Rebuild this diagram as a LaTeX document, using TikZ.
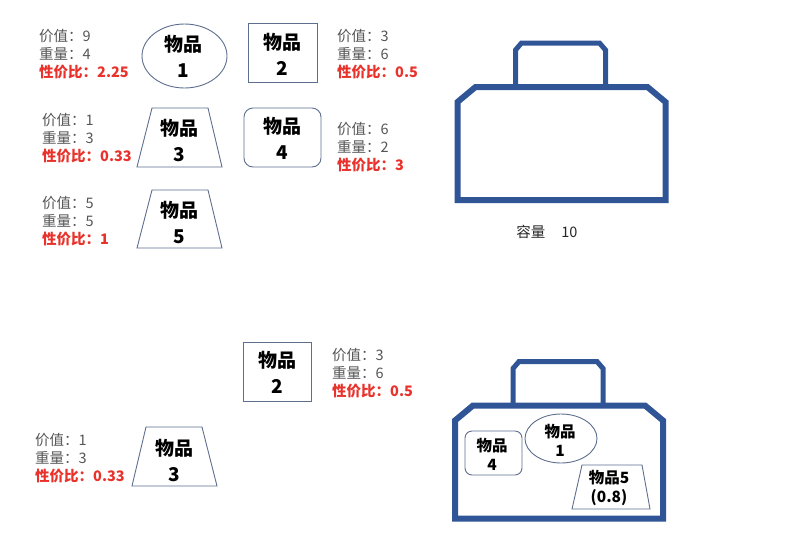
\documentclass[tikz,border=0pt]{standalone}
\usepackage{fontspec}
\setmainfont{Noto Sans CJK SC}
\usetikzlibrary{shapes.geometric}
\definecolor{bagblue}{HTML}{2F5597}
\definecolor{edgeg}{HTML}{5E6E8E}
\definecolor{lblred}{HTML}{E8322B}
\definecolor{lblgray}{HTML}{555555}
\tikzset{
  lbl/.style={anchor=west,align=left,inner sep=0pt,text=lblgray,font=\fontsize{14.5}{18}\selectfont},
  itemtxt/.style={align=center,inner sep=0pt,font=\fontsize{19}{26}\selectfont\bfseries,text=black},
  smalltxt/.style={align=center,inner sep=0pt,font=\fontsize{15.5}{19}\selectfont\bfseries,text=black},
  outl/.style={draw=edgeg,line width=0.9pt},
  bagline/.style={draw=bagblue,line width=6pt,line join=miter},
  handleline/.style={draw=bagblue,line width=5pt,line join=miter},
  pics/bag/.style={code={
    \draw[handleline] (58,0) -- (58,-37) -- (64,-44) -- (142,-44) -- (148,-37) -- (148,0);
    \draw[bagline] (0,15) -- (18,0) -- (190,0) -- (208,15) -- (208,113) -- (0,113) -- cycle;
  }}
}
\newcommand{\lbltext}[3]{价值：#1\\重量：#2\\\textcolor{lblred}{\bfseries 性价比：#3}}
\begin{document}
\begin{tikzpicture}[x=1pt,y=-1pt]
\useasboundingbox (0,0) rectangle (809,547);
% ---------- top ----------
\draw[outl] (184.5,56) ellipse[x radius=42.5,y radius=32];
\node[itemtxt] (t1) at (183,56) {物品\\1};
\node[lbl] (l1) at (39,54) {\lbltext{9}{4}{2.25}};

\draw[outl] (248,23) rectangle (317,82);
\node[itemtxt] (t2) at (282,54) {物品\\2};
\node[lbl] (l2) at (337,54) {\lbltext{3}{6}{0.5}};

\draw[outl] (152,108) -- (208,108) -- (222,167) -- (137,167) -- cycle;
\node[itemtxt] (t3) at (179,140.5) {物品\\3};
\node[lbl] (l3) at (42,138) {\lbltext{1}{3}{0.33}};

\draw[outl,rounded corners=9pt] (244,108) rectangle (321,167);
\node[itemtxt] (t4) at (282,138) {物品\\4};
\node[lbl] (l4) at (337,147) {\lbltext{6}{2}{3}};

\draw[outl] (152,190) -- (208,190) -- (222,248) -- (137,248) -- cycle;
\node[itemtxt] (t5) at (179,223) {物品\\5};
\node[lbl] (l5) at (42,221) {\lbltext{5}{5}{1}};

\pic at (457.5,87) {bag};
\node[inner sep=0pt,font=\fontsize{14.5}{16}\selectfont,text=black!85] (cap) at (547,232) {容量\hspace{1.1em}10};

% ---------- bottom ----------
\draw[outl] (243,342) rectangle (311,401);
\node[itemtxt] (b2) at (277,372.5) {物品\\2};
\node[lbl] (bl2) at (332,373) {\lbltext{3}{6}{0.5}};

\draw[outl] (146,427) -- (202,427) -- (217,486) -- (132,486) -- cycle;
\node[itemtxt] (b3) at (174,460.5) {物品\\3};
\node[lbl] (bl3) at (35,458) {\lbltext{1}{3}{0.33}};

\pic at (455,405.5) {bag};
\draw[outl,rounded corners=7pt] (465,431) rectangle (522,475);
\node[smalltxt] (k4) at (492,454) {物品\\4};
\draw[outl] (561,438.5) ellipse[x radius=36,y radius=24.5];
\node[smalltxt] (k1) at (560,440) {物品\\1};
\draw[outl] (582,465) -- (642,465) -- (650,509) -- (572,509) -- cycle;
\node[smalltxt] (k5) at (609,487.5) {物品5\\(0.8)};
\end{tikzpicture}
\end{document}
